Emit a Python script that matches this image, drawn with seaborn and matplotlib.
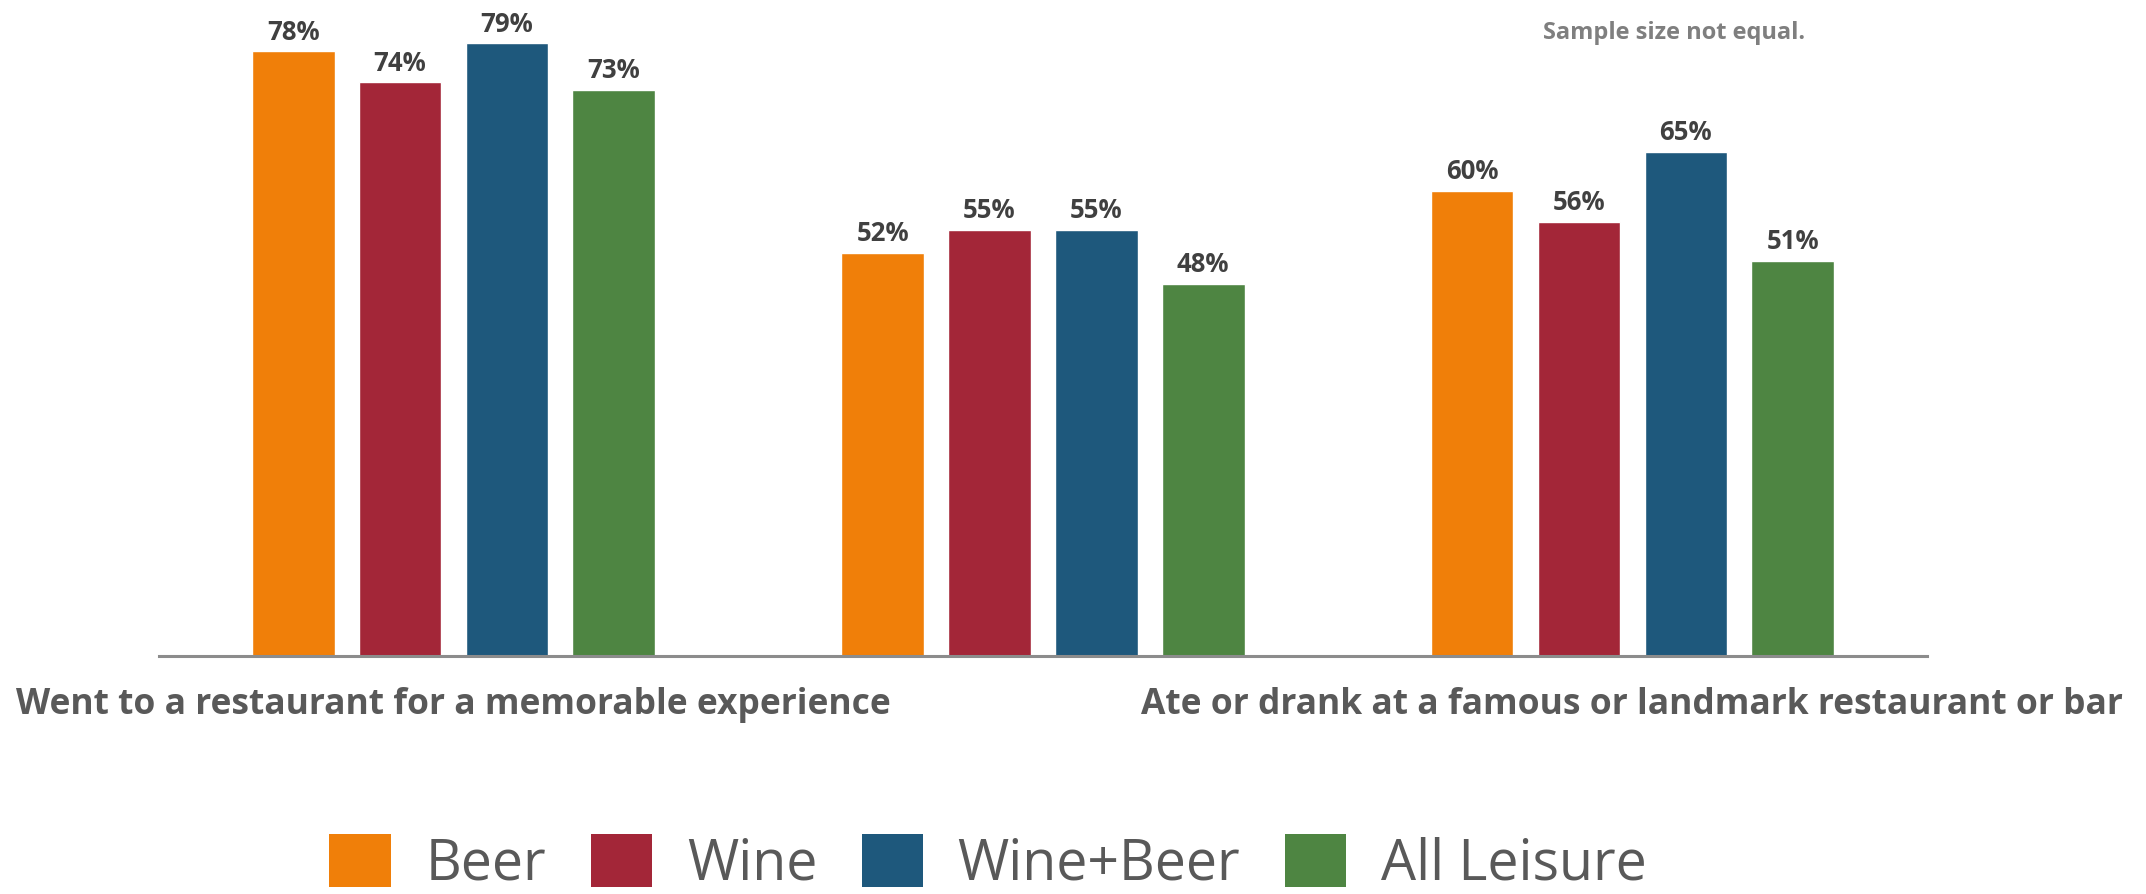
import matplotlib
matplotlib.use("Agg")
import matplotlib.pyplot as plt
import matplotlib.patches as mpatches
import pandas as pd
import seaborn as sns

# Survey categories (the middle category's label is not shown on the axis)
categories = [
    "Went to a restaurant for a memorable experience",
    "",
    "Ate or drank at a famous or landmark restaurant or bar",
]
groups = ["Beer", "Wine", "Wine+Beer", "All Leisure"]

beer = [78, 52, 60]
wine = [74, 55, 56]
wine_beer = [79, 55, 65]
all_leisure = [73, 48, 51]

colors = ["#F07F09", "#A32638", "#1E587C", "#4E8542"]

rows = []
for g, vals in zip(groups, [beer, wine, wine_beer, all_leisure]):
    for c, v in zip(categories, vals):
        rows.append({"category": c, "group": g, "pct": v})
df = pd.DataFrame(rows)

sns.set_theme(style="white")
plt.rcParams["font.family"] = ["Open Sans", "DejaVu Sans"]

W, H = 2146, 894
fig = plt.figure(figsize=(W / 100, H / 100), dpi=100)
ax = fig.add_axes([0.074, 0.266, 0.824, 0.734])

sns.barplot(
    data=df, x="category", y="pct", hue="group",
    order=categories, hue_order=groups, palette=colors,
    width=0.725, gap=0.227, legend=False, ax=ax,
    saturation=1, errorbar=None,
)

for cont in ax.containers:
    ax.bar_label(
        cont, labels=[f"{v:.0f}%" for v in cont.datavalues],
        padding=4, fontsize=18.5, fontweight="bold", color="#404040",
    )

ax.set_xlim(-0.5, 2.5)
ax.set_ylim(0, 84.6)
ax.set_xlabel("")
ax.set_ylabel("")
ax.set_yticks([])
for s in ["top", "right", "left"]:
    ax.spines[s].set_visible(False)
ax.spines["bottom"].set_color("#8c8c8c")
ax.spines["bottom"].set_linewidth(2.2)
ax.tick_params(axis="x", length=0, pad=22, labelsize=25.5, labelcolor="#595959")
for lbl in ax.get_xticklabels():
    lbl.set_fontweight("bold")

fig.text(1543 / W, 1 - 39 / H, "Sample size not equal.",
         ha="left", va="baseline", fontsize=17, fontweight="bold", color="#7F7F7F")

handles = [mpatches.Patch(facecolor=c, edgecolor="none", label=g)
           for g, c in zip(groups, colors)]
fig.legend(
    handles=handles, loc="center", bbox_to_anchor=(988 / W, 30 / H),
    ncol=4, frameon=False, fontsize=40, labelcolor="#595959",
    handlelength=1.1, handleheight=1.08, handletextpad=0.63, columnspacing=0.8,
    borderpad=0, borderaxespad=0,
)

fig.savefig("out.png", dpi=100)
